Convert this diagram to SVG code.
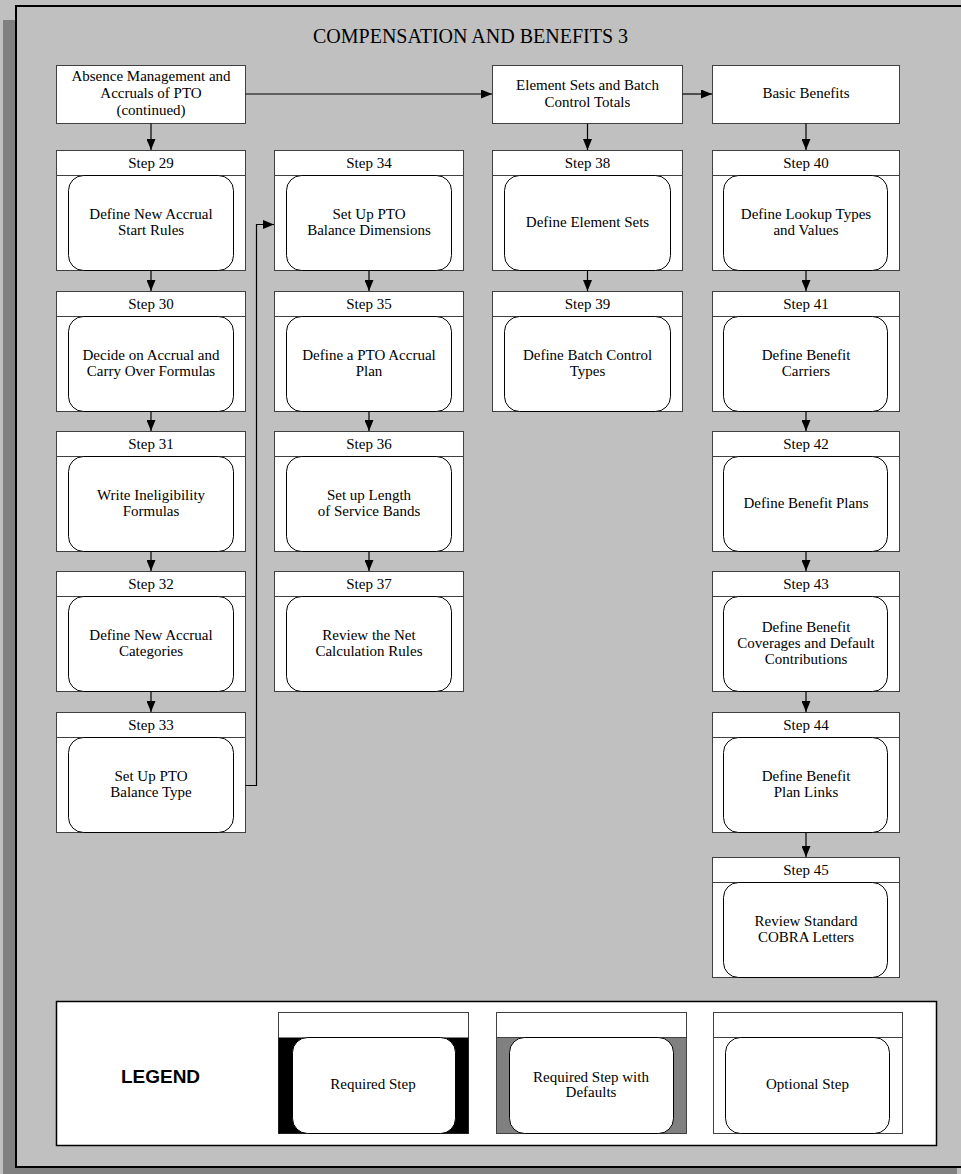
<svg xmlns="http://www.w3.org/2000/svg" width="961" height="1174" viewBox="0 0 961 1174">
  <defs>
    <marker id="arrow" markerUnits="userSpaceOnUse" markerWidth="12" markerHeight="9" refX="11" refY="4.5" orient="auto">
      <path d="M0,0 L11,4.5 L0,9 z" fill="#000"/>
    </marker>
    <style>
      .box { fill: #fff; stroke: #404040; stroke-width: 1; }
      .hdr { stroke: #404040; stroke-width: 1; }
      .inner { fill: #fff; stroke: #000; stroke-width: 1; }
      .lbl, .txt { font-family: "Liberation Serif", "Times New Roman", serif; font-size: 15px; fill: #000; text-anchor: middle; }
      .title { font-family: "Liberation Serif", "Times New Roman", serif; font-size: 20px; fill: #000; text-anchor: middle; }
      .legend-title { font-family: "Liberation Sans", Arial, sans-serif; font-size: 19px; font-weight: bold; fill: #000; text-anchor: middle; }
      .conn { fill: none; stroke: #000; stroke-width: 1.2; }
    </style>
  </defs>

  <!-- page background, drop shadow and frame -->
  <rect x="0" y="0" width="961" height="1174" fill="#c0c0c0"/>
  <rect x="3" y="20" width="954" height="1160" fill="#808080"/>
  <rect x="16" y="6" width="1000" height="1161" fill="#c0c0c0" stroke="#000" stroke-width="2"/>

  <text class="title" x="470.5" y="43">COMPENSATION AND BENEFITS 3</text>

  <!-- section headers -->
  <g id="absence-management">
    <rect class="box" x="56.5" y="65.5" width="189" height="58"/>
    <text class="txt" x="151" y="81">Absence Management and<tspan x="151" dy="17">Accruals of PTO</tspan><tspan x="151" dy="17">(continued)</tspan></text>
  </g>
  <g id="element-sets">
    <rect class="box" x="492.5" y="65.5" width="190" height="58"/>
    <text class="txt" x="587.5" y="90">Element Sets and Batch<tspan x="587.5" dy="17">Control Totals</tspan></text>
  </g>
  <g id="basic-benefits">
    <rect class="box" x="712.5" y="65.5" width="187" height="58"/>
    <text class="txt" x="806" y="98">Basic Benefits</text>
  </g>

  <!-- column 1: steps 29-33 -->
  <g id="step29" transform="translate(56,150)">
    <rect class="box" x="0.5" y="0.5" width="189" height="120"/>
    <line class="hdr" x1="0.5" y1="25.5" x2="189.5" y2="25.5"/>
    <rect class="inner" x="12.5" y="25.5" width="165" height="95" rx="15"/>
    <text class="lbl" x="95" y="18">Step 29</text>
    <text class="txt" x="95" y="68.75">Define New Accrual<tspan x="95" dy="16.5">Start Rules</tspan></text>
  </g>
  <g id="step30" transform="translate(56,291)">
    <rect class="box" x="0.5" y="0.5" width="189" height="120"/>
    <line class="hdr" x1="0.5" y1="25.5" x2="189.5" y2="25.5"/>
    <rect class="inner" x="12.5" y="25.5" width="165" height="95" rx="15"/>
    <text class="lbl" x="95" y="18">Step 30</text>
    <text class="txt" x="95" y="68.75">Decide on Accrual and<tspan x="95" dy="16.5">Carry Over Formulas</tspan></text>
  </g>
  <g id="step31" transform="translate(56,431)">
    <rect class="box" x="0.5" y="0.5" width="189" height="120"/>
    <line class="hdr" x1="0.5" y1="25.5" x2="189.5" y2="25.5"/>
    <rect class="inner" x="12.5" y="25.5" width="165" height="95" rx="15"/>
    <text class="lbl" x="95" y="18">Step 31</text>
    <text class="txt" x="95" y="68.75">Write Ineligibility<tspan x="95" dy="16.5">Formulas</tspan></text>
  </g>
  <g id="step32" transform="translate(56,571)">
    <rect class="box" x="0.5" y="0.5" width="189" height="120"/>
    <line class="hdr" x1="0.5" y1="25.5" x2="189.5" y2="25.5"/>
    <rect class="inner" x="12.5" y="25.5" width="165" height="95" rx="15"/>
    <text class="lbl" x="95" y="18">Step 32</text>
    <text class="txt" x="95" y="68.75">Define New Accrual<tspan x="95" dy="16.5">Categories</tspan></text>
  </g>
  <g id="step33" transform="translate(56,712)">
    <rect class="box" x="0.5" y="0.5" width="189" height="120"/>
    <line class="hdr" x1="0.5" y1="25.5" x2="189.5" y2="25.5"/>
    <rect class="inner" x="12.5" y="25.5" width="165" height="95" rx="15"/>
    <text class="lbl" x="95" y="18">Step 33</text>
    <text class="txt" x="95" y="68.75">Set Up PTO<tspan x="95" dy="16.5">Balance Type</tspan></text>
  </g>

  <!-- column 2: steps 34-37 -->
  <g id="step34" transform="translate(274,150)">
    <rect class="box" x="0.5" y="0.5" width="189" height="120"/>
    <line class="hdr" x1="0.5" y1="25.5" x2="189.5" y2="25.5"/>
    <rect class="inner" x="12.5" y="25.5" width="165" height="95" rx="15"/>
    <text class="lbl" x="95" y="18">Step 34</text>
    <text class="txt" x="95" y="68.75">Set Up PTO<tspan x="95" dy="16.5">Balance Dimensions</tspan></text>
  </g>
  <g id="step35" transform="translate(274,291)">
    <rect class="box" x="0.5" y="0.5" width="189" height="120"/>
    <line class="hdr" x1="0.5" y1="25.5" x2="189.5" y2="25.5"/>
    <rect class="inner" x="12.5" y="25.5" width="165" height="95" rx="15"/>
    <text class="lbl" x="95" y="18">Step 35</text>
    <text class="txt" x="95" y="68.75">Define a PTO Accrual<tspan x="95" dy="16.5">Plan</tspan></text>
  </g>
  <g id="step36" transform="translate(274,431)">
    <rect class="box" x="0.5" y="0.5" width="189" height="120"/>
    <line class="hdr" x1="0.5" y1="25.5" x2="189.5" y2="25.5"/>
    <rect class="inner" x="12.5" y="25.5" width="165" height="95" rx="15"/>
    <text class="lbl" x="95" y="18">Step 36</text>
    <text class="txt" x="95" y="68.75">Set up Length<tspan x="95" dy="16.5">of Service Bands</tspan></text>
  </g>
  <g id="step37" transform="translate(274,571)">
    <rect class="box" x="0.5" y="0.5" width="189" height="120"/>
    <line class="hdr" x1="0.5" y1="25.5" x2="189.5" y2="25.5"/>
    <rect class="inner" x="12.5" y="25.5" width="165" height="95" rx="15"/>
    <text class="lbl" x="95" y="18">Step 37</text>
    <text class="txt" x="95" y="68.75">Review the Net<tspan x="95" dy="16.5">Calculation Rules</tspan></text>
  </g>

  <!-- column 3: steps 38-39 -->
  <g id="step38" transform="translate(492,150)">
    <rect class="box" x="0.5" y="0.5" width="190" height="120"/>
    <line class="hdr" x1="0.5" y1="25.5" x2="190.5" y2="25.5"/>
    <rect class="inner" x="12.5" y="25.5" width="166" height="95" rx="15"/>
    <text class="lbl" x="95.5" y="18">Step 38</text>
    <text class="txt" x="95.5" y="77">Define Element Sets</text>
  </g>
  <g id="step39" transform="translate(492,291)">
    <rect class="box" x="0.5" y="0.5" width="190" height="120"/>
    <line class="hdr" x1="0.5" y1="25.5" x2="190.5" y2="25.5"/>
    <rect class="inner" x="12.5" y="25.5" width="166" height="95" rx="15"/>
    <text class="lbl" x="95.5" y="18">Step 39</text>
    <text class="txt" x="95.5" y="68.75">Define Batch Control<tspan x="95.5" dy="16.5">Types</tspan></text>
  </g>

  <!-- column 4: steps 40-45 -->
  <g id="step40" transform="translate(712,150)">
    <rect class="box" x="0.5" y="0.5" width="187" height="120"/>
    <line class="hdr" x1="0.5" y1="25.5" x2="187.5" y2="25.5"/>
    <rect class="inner" x="11.5" y="25.5" width="164" height="95" rx="15"/>
    <text class="lbl" x="94" y="18">Step 40</text>
    <text class="txt" x="94" y="68.75">Define Lookup Types<tspan x="94" dy="16.5">and Values</tspan></text>
  </g>
  <g id="step41" transform="translate(712,291)">
    <rect class="box" x="0.5" y="0.5" width="187" height="120"/>
    <line class="hdr" x1="0.5" y1="25.5" x2="187.5" y2="25.5"/>
    <rect class="inner" x="11.5" y="25.5" width="164" height="95" rx="15"/>
    <text class="lbl" x="94" y="18">Step 41</text>
    <text class="txt" x="94" y="68.75">Define Benefit<tspan x="94" dy="16.5">Carriers</tspan></text>
  </g>
  <g id="step42" transform="translate(712,431)">
    <rect class="box" x="0.5" y="0.5" width="187" height="120"/>
    <line class="hdr" x1="0.5" y1="25.5" x2="187.5" y2="25.5"/>
    <rect class="inner" x="11.5" y="25.5" width="164" height="95" rx="15"/>
    <text class="lbl" x="94" y="18">Step 42</text>
    <text class="txt" x="94" y="77">Define Benefit Plans</text>
  </g>
  <g id="step43" transform="translate(712,571)">
    <rect class="box" x="0.5" y="0.5" width="187" height="120"/>
    <line class="hdr" x1="0.5" y1="25.5" x2="187.5" y2="25.5"/>
    <rect class="inner" x="11.5" y="25.5" width="164" height="95" rx="15"/>
    <text class="lbl" x="94" y="18">Step 43</text>
    <text class="txt" x="94" y="61">Define Benefit<tspan x="94" dy="16">Coverages and Default</tspan><tspan x="94" dy="16">Contributions</tspan></text>
  </g>
  <g id="step44" transform="translate(712,712)">
    <rect class="box" x="0.5" y="0.5" width="187" height="120"/>
    <line class="hdr" x1="0.5" y1="25.5" x2="187.5" y2="25.5"/>
    <rect class="inner" x="11.5" y="25.5" width="164" height="95" rx="15"/>
    <text class="lbl" x="94" y="18">Step 44</text>
    <text class="txt" x="94" y="68.75">Define Benefit<tspan x="94" dy="16.5">Plan Links</tspan></text>
  </g>
  <g id="step45" transform="translate(712,857)">
    <rect class="box" x="0.5" y="0.5" width="187" height="120"/>
    <line class="hdr" x1="0.5" y1="25.5" x2="187.5" y2="25.5"/>
    <rect class="inner" x="11.5" y="25.5" width="164" height="95" rx="15"/>
    <text class="lbl" x="94" y="18">Step 45</text>
    <text class="txt" x="94" y="68.75">Review Standard<tspan x="94" dy="16.5">COBRA Letters</tspan></text>
  </g>

  <!-- connectors -->
  <g id="connectors" class="conn">
    <line x1="245.5" y1="94" x2="492" y2="94" marker-end="url(#arrow)"/>
    <line x1="682.5" y1="94" x2="712" y2="94" marker-end="url(#arrow)"/>
    <line x1="151" y1="123.5" x2="151" y2="150" marker-end="url(#arrow)"/>
    <line x1="587.5" y1="123.5" x2="587.5" y2="150" marker-end="url(#arrow)"/>
    <line x1="806" y1="123.5" x2="806" y2="150" marker-end="url(#arrow)"/>
    <line x1="151" y1="270.5" x2="151" y2="291" marker-end="url(#arrow)"/>
    <line x1="151" y1="411.5" x2="151" y2="431" marker-end="url(#arrow)"/>
    <line x1="151" y1="551.5" x2="151" y2="571" marker-end="url(#arrow)"/>
    <line x1="151" y1="691.5" x2="151" y2="712" marker-end="url(#arrow)"/>
    <polyline points="245.5,785.5 256.5,785.5 256.5,224.5 274,224.5" marker-end="url(#arrow)"/>
    <line x1="369" y1="270.5" x2="369" y2="291" marker-end="url(#arrow)"/>
    <line x1="369" y1="411.5" x2="369" y2="431" marker-end="url(#arrow)"/>
    <line x1="369" y1="551.5" x2="369" y2="571" marker-end="url(#arrow)"/>
    <line x1="587.5" y1="270.5" x2="587.5" y2="291" marker-end="url(#arrow)"/>
    <line x1="806" y1="270.5" x2="806" y2="291" marker-end="url(#arrow)"/>
    <line x1="806" y1="411.5" x2="806" y2="431" marker-end="url(#arrow)"/>
    <line x1="806" y1="551.5" x2="806" y2="571" marker-end="url(#arrow)"/>
    <line x1="806" y1="691.5" x2="806" y2="712" marker-end="url(#arrow)"/>
    <line x1="806" y1="832.5" x2="806" y2="857" marker-end="url(#arrow)"/>
  </g>

  <!-- legend -->
  <g id="legend">
    <rect x="56.5" y="1001.5" width="880" height="144" fill="#fff" stroke="#000" stroke-width="1.5"/>
    <text class="legend-title" x="160.5" y="1083">LEGEND</text>
  </g>
  <g id="legend-required" transform="translate(278,1012)">
    <rect class="box" x="0.5" y="0.5" width="190" height="121"/>
    <rect x="0.5" y="25.5" width="190" height="96" fill="#000"/>
    <rect x="14.5" y="25.5" width="163" height="96" rx="15" fill="#fff" stroke="#000"/>
    <text class="txt" x="95" y="77">Required Step</text>
  </g>
  <g id="legend-defaults" transform="translate(496,1012)">
    <rect class="box" x="0.5" y="0.5" width="190" height="121"/>
    <rect x="0.5" y="25.5" width="190" height="96" fill="#808080" stroke="#404040"/>
    <rect x="13.5" y="25.5" width="164" height="96" rx="15" fill="#fff" stroke="#000"/>
    <text class="txt" x="95" y="70">Required Step with<tspan x="95" dy="15">Defaults</tspan></text>
  </g>
  <g id="legend-optional" transform="translate(713,1012)">
    <rect class="box" x="0.5" y="0.5" width="189" height="121"/>
    <line class="hdr" x1="0.5" y1="25.5" x2="189.5" y2="25.5"/>
    <rect class="inner" x="12.5" y="25.5" width="164" height="96" rx="15"/>
    <text class="txt" x="94.5" y="77">Optional Step</text>
  </g>
</svg>
